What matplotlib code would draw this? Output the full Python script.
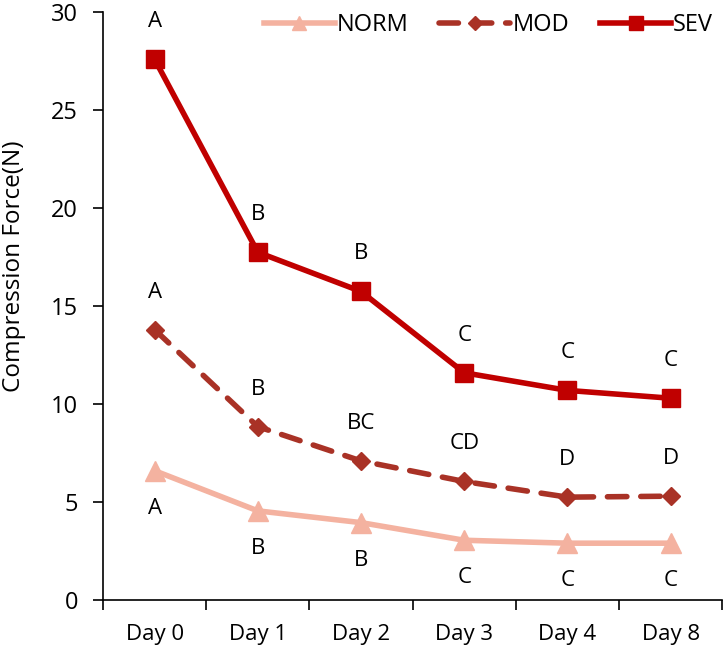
import matplotlib
matplotlib.use("Agg")
import matplotlib.pyplot as plt
import numpy as np

days = ["Day 0", "Day 1", "Day 2", "Day 3", "Day 4", "Day 8"]
norm = [6.6, 4.55, 3.95, 3.05, 2.9, 2.9]
mod = [13.8, 8.85, 7.1, 6.05, 5.25, 5.3]
sev = [27.6, 17.75, 15.75, 11.6, 10.7, 10.3]
norm_letters = ["A", "B", "B", "C", "C", "C"]
mod_letters = ["A", "B", "BC", "CD", "D", "D"]
sev_letters = ["A", "B", "B", "C", "C", "C"]

plt.rcParams['font.family'] = ['Open Sans', 'DejaVu Sans']

fig = plt.figure(figsize=(7.28, 6.46), dpi=100)
ax = fig.add_axes([0.1415, 0.0712, 0.8505, 0.9098])

x = np.arange(len(days))
c_norm = "#F4B2A0"
c_mod = "#A93226"
c_sev = "#C00000"

ax.plot(x, norm, color=c_norm, lw=4, marker="^", ms=14, label="NORM", zorder=3)
ax.plot(x, mod, color=c_mod, lw=4, ls=(0, (3.5, 2.5)), marker="D", ms=9, label="MOD", zorder=3,
        dash_capstyle="round")
ax.plot(x, sev, color=c_sev, lw=4, marker="s", ms=13, label="SEV", zorder=3)

fs = 16
for xi, v, t in zip(x, sev, sev_letters):
    ax.annotate(t, (xi, v), xytext=(0, 27), textcoords="offset points", ha="center", va="center", fontsize=fs)
for xi, v, t in zip(x, mod, mod_letters):
    ax.annotate(t, (xi, v), xytext=(0, 27), textcoords="offset points", ha="center", va="center", fontsize=fs)
for xi, v, t in zip(x, norm, norm_letters):
    ax.annotate(t, (xi, v), xytext=(0, -27), textcoords="offset points", ha="center", va="center", fontsize=fs)

ax.set_xlim(-0.5, len(days) - 0.5)
ax.set_ylim(0, 30)
ax.set_yticks(np.arange(0, 31, 5))
ax.set_xticks(np.arange(-0.5, len(days), 1.0))
ax.set_xticklabels([])
ax.set_xticks(x, minor=True)
ax.set_xticklabels(days, minor=True, fontsize=16)
ax.tick_params(axis="x", which="minor", length=0, pad=17)
ax.tick_params(axis="x", which="major", length=7, width=1.2, direction="out")
ax.tick_params(axis="y", length=7, width=1.2, labelsize=17, pad=11)
ax.spines["top"].set_visible(False)
ax.spines["right"].set_visible(False)
ax.spines["left"].set_linewidth(1.2)
ax.spines["bottom"].set_linewidth(1.2)
ax.set_ylabel("Compression Force(N)", fontsize=17.5, va="center")
ax.yaxis.set_label_coords(-0.144, 0.568)

ax.legend(loc="upper right", ncol=3, frameon=False, fontsize=17, bbox_to_anchor=(1.02, 1.035),
          handlelength=3.0, columnspacing=1.3, handletextpad=0.1, markerscale=0.75)

fig.savefig("out.png", dpi=100)
